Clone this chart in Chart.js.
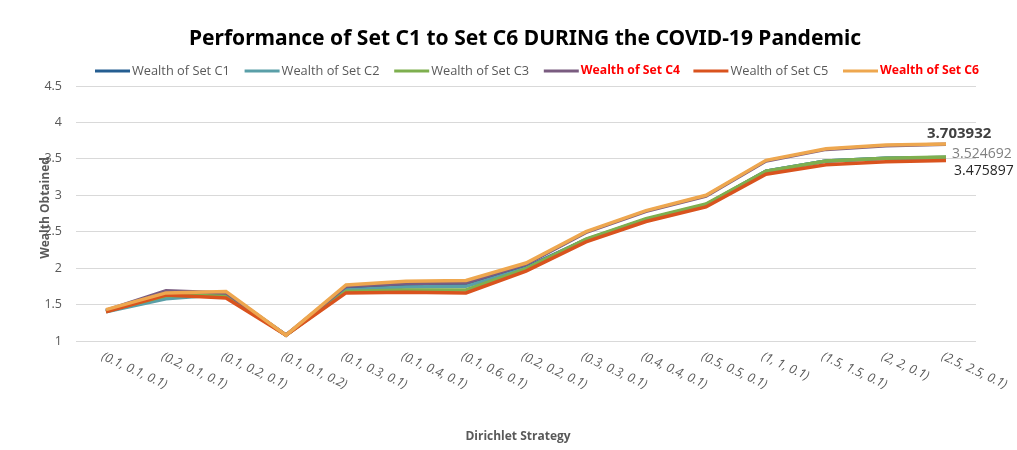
<!DOCTYPE html>
<html>
<head>
<meta charset="utf-8">
<script src="https://cdn.jsdelivr.net/npm/chart.js@4.4.1/dist/chart.umd.min.js"></script>
<style>
  html, body { margin: 0; padding: 0; background: #fff; }
  #wrap { width: 1017px; height: 450px; position: relative; }
</style>
</head>
<body>
<div id="wrap"><canvas id="chart"></canvas></div>
<script>
'use strict';

// ── Data ─────────────────────────────────────────────────────
const strategies = [
  '(0.1, 0.1, 0.1)', '(0.2, 0.1, 0.1)', '(0.1, 0.2, 0.1)', '(0.1, 0.1, 0.2)',
  '(0.1, 0.3, 0.1)', '(0.1, 0.4, 0.1)', '(0.1, 0.6, 0.1)', '(0.2, 0.2, 0.1)',
  '(0.3, 0.3, 0.1)', '(0.4, 0.4, 0.1)', '(0.5, 0.5, 0.1)', '(1, 1, 0.1)',
  '(1.5, 1.5, 0.1)', '(2, 2, 0.1)', '(2.5, 2.5, 0.1)'
];
const setC1 = [1.41, 1.62, 1.66, 1.08, 1.72, 1.77, 1.78, 2.01, 2.39, 2.67, 2.87, 3.33, 3.47, 3.51, 3.52];
const setC2 = [1.40, 1.58, 1.64, 1.08, 1.70, 1.74, 1.75, 2.00, 2.39, 2.67, 2.87, 3.33, 3.47, 3.51, 3.52];
const setC3 = [1.41, 1.62, 1.63, 1.08, 1.68, 1.70, 1.70, 1.99, 2.40, 2.68, 2.88, 3.33, 3.47, 3.51, 3.524692];
const setC4 = [1.42, 1.69, 1.66, 1.08, 1.75, 1.79, 1.80, 2.05, 2.49, 2.78, 2.99, 3.47, 3.63, 3.68, 3.70];
const setC5 = [1.40, 1.63, 1.59, 1.08, 1.66, 1.67, 1.66, 1.96, 2.36, 2.64, 2.84, 3.29, 3.42, 3.46, 3.475897];
const setC6 = [1.43, 1.66, 1.68, 1.08, 1.77, 1.82, 1.83, 2.07, 2.50, 2.79, 3.00, 3.48, 3.64, 3.69, 3.703932];
const yTicks = [1, 1.5, 2, 2.5, 3, 3.5, 4, 4.5];

const names  = ['Wealth of Set C1', 'Wealth of Set C2', 'Wealth of Set C3', 'Wealth of Set C4', 'Wealth of Set C5', 'Wealth of Set C6'];
const colors = ['#255E91', '#5A9FA8', '#7EAF4F', '#7A5C80', '#D9531E', '#EEA74F'];
const series = [setC1, setC2, setC3, setC4, setC5, setC6];
const redLegend = [false, false, false, true, false, true];

const FONT = '"Open Sans", sans-serif';
const GREY = '#595959';

// ── Custom drawing: title, legend, axis texts, end labels ────
const decor = {
  id: 'decor',
  afterDraw(chart) {
    const ctx = chart.ctx;
    const x = chart.scales.x;
    ctx.save();

    // title
    ctx.fillStyle = '#000';
    ctx.font = 'bold 21px "Noto Sans", sans-serif';
    ctx.textAlign = 'center';
    ctx.textBaseline = 'alphabetic';
    ctx.fillText('Performance of Set C1 to Set C6 DURING the COVID-19 Pandemic', 525, 45);

    // legend
    ctx.textBaseline = 'middle';
    ctx.textAlign = 'left';
    names.forEach((n, i) => {
      const lx = 95 + i * 149.6;
      ctx.strokeStyle = colors[i];
      ctx.lineWidth = 3;
      ctx.beginPath();
      ctx.moveTo(lx, 71);
      ctx.lineTo(lx + 35, 71);
      ctx.stroke();
      ctx.fillStyle = redLegend[i] ? '#FF0000' : GREY;
      ctx.font = (redLegend[i] ? 'bold 12.2px ' : '12.8px ') + FONT;
      ctx.fillText(n, lx + 37, 71);
    });

    // x tick labels, slanted down to the right
    ctx.fillStyle = GREY;
    ctx.font = 'italic 12.5px ' + FONT;
    ctx.textBaseline = 'top';
    strategies.forEach((s, i) => {
      const px = x.getPixelForTick(i);
      ctx.save();
      ctx.translate(px - 1, 350);
      ctx.rotate(25 * Math.PI / 180);
      ctx.fillText(s, 0, 0);
      ctx.restore();
    });

    // axis titles
    ctx.font = 'bold 12px ' + FONT;
    ctx.textAlign = 'center';
    ctx.textBaseline = 'middle';
    ctx.fillText('Dirichlet Strategy', 518, 437);
    ctx.save();
    ctx.translate(46, 208);
    ctx.rotate(-Math.PI / 2);
    ctx.fillText('Wealth Obtained', 0, 0);
    ctx.restore();

    // end-point value labels
    const last = strategies.length - 1;
    const p6 = chart.getDatasetMeta(5).data[last];
    const p3 = chart.getDatasetMeta(2).data[last];
    const p5 = chart.getDatasetMeta(4).data[last];
    ctx.textAlign = 'left';
    ctx.textBaseline = 'alphabetic';
    ctx.fillStyle = '#404040';
    ctx.font = 'bold 15px ' + FONT;
    ctx.fillText(setC6[last].toFixed(6), p6.x - 19, p6.y - 6);
    ctx.fillStyle = '#7F7F7F';
    ctx.font = '14px ' + FONT;
    ctx.fillText(setC3[last].toFixed(6), p3.x + 6, p3.y + 1);
    ctx.fillStyle = '#262626';
    ctx.fillText(setC5[last].toFixed(6), p5.x + 8, p5.y + 14);

    ctx.restore();
  }
};

// ── Chart ────────────────────────────────────────────────────
const drawOrder = [6, 5, 4, 3, 2, 1];

new Chart(document.getElementById('chart'), {
  type: 'line',
  data: {
    labels: strategies,
    datasets: series.map((d, i) => ({
      label: names[i],
      data: d,
      borderColor: colors[i],
      backgroundColor: colors[i],
      borderWidth: 3.5,
      pointRadius: 0,
      tension: 0,
      order: drawOrder[i]
    }))
  },
  options: {
    responsive: true,
    maintainAspectRatio: false,
    animation: false,
    layout: { padding: { top: 86, bottom: 109, left: 0, right: 41 } },
    plugins: { legend: { display: false }, title: { display: false }, tooltip: { enabled: false } },
    scales: {
      x: {
        offset: true,
        afterFit(scale) { scale.height = 0; },
        grid: { display: false },
        border: { display: false },
        ticks: { display: false }
      },
      y: {
        min: 1,
        max: 4.5,
        afterFit(scale) { scale.width = 76; },
        afterBuildTicks(scale) { scale.ticks = yTicks.map(v => ({ value: v })); },
        grid: { color: '#D9D9D9', lineWidth: 1, drawTicks: false },
        border: { display: false },
        ticks: {
          color: GREY,
          padding: 14,
          font: { family: FONT, size: 12.5 },
          callback: v => String(v)
        }
      }
    }
  },
  plugins: [decor]
});
</script>
</body>
</html>
